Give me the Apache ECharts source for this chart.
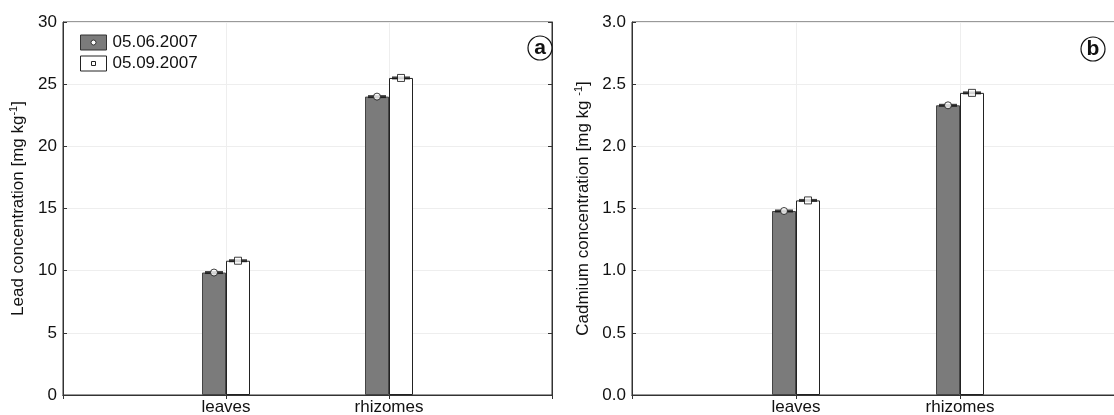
<!DOCTYPE html>
<html><head><meta charset="utf-8">
<script src="https://cdn.jsdelivr.net/npm/echarts@6/dist/echarts.min.js"></script>
<style>html,body{margin:0;padding:0;background:#fff}#c{width:1114px;height:415px}</style>
</head><body><div id="c"></div>
<script>
var categories = ['', 'leaves', 'rhizomes', ''];
var seriesNames = ['05.06.2007', '05.09.2007'];
var leadJune = ['-', 9.85, 24.0, '-'];
var leadSept = ['-', 10.8, 25.5, '-'];
var cadJune = ['-', 1.48, 2.33, '-'];
var cadSept = ['-', 1.565, 2.43, '-'];
var leadTicks = [0, 30, 5];
var cadTicks = [0, 3, 0.5];

var FONT = 'Liberation Sans, Arial, sans-serif';
var chart = echarts.init(document.getElementById('c'));

function xAx(gi, pos, labels) {
  return {
    type: 'category', gridIndex: gi, data: categories, position: pos, boundaryGap: false,
    axisLine: {show: true, lineStyle: {color: '#333', width: 1}},
    axisTick: {show: true, inside: true, length: 4, lineStyle: {color: '#333'}},
    axisLabel: {show: labels, interval: 0, color: '#111', fontSize: 17, fontFamily: FONT, margin: 4},
    splitLine: {show: labels, lineStyle: {color: '#eeeeee', width: 1}}
  };
}
function yAx(gi, pos, t, labels, name, gap, dec) {
  return {
    type: 'value', gridIndex: gi, position: pos, min: t[0], max: t[1], interval: t[2],
    name: labels ? name : '', nameLocation: 'middle', nameGap: gap,
    nameTextStyle: {fontFamily: FONT, color: '#111', fontSize: 17,
      rich: {n: {fontSize: 17, fontFamily: FONT, color: '#111'},
             s: {fontSize: 11, fontFamily: FONT, color: '#111', padding: [0, 0, 10, 0]}}},
    axisLine: {show: true, lineStyle: {color: '#333', width: 1}},
    axisTick: {show: true, inside: true, length: 4, lineStyle: {color: '#333'}},
    axisLabel: {show: labels, color: '#111', fontSize: 17, fontFamily: FONT, margin: 6,
      formatter: function (v) { return dec ? v.toFixed(1) : String(v); }},
    splitLine: {show: labels, lineStyle: {color: '#eeeeee', width: 1}}
  };
}

function barSeries(name, data, gi, dark) {
  return {
    name: name, type: 'bar', xAxisIndex: gi * 2, yAxisIndex: gi * 2, data: data,
    barWidth: 24, barGap: '0%',
    itemStyle: {color: dark ? '#7b7b7b' : '#ffffff', borderColor: dark ? '#444' : '#222', borderWidth: 1},
    emphasis: {disabled: true}, z: 2
  };
}
function capSeries(data, gi, off) {
  return {
    type: 'scatter', xAxisIndex: gi * 2, yAxisIndex: gi * 2, data: data,
    symbol: 'rect', symbolSize: [18, 3], symbolOffset: [off, 0],
    itemStyle: {color: '#111'}, silent: true, z: 3
  };
}
function markSeries(data, gi, off, sym) {
  return {
    type: 'scatter', xAxisIndex: gi * 2, yAxisIndex: gi * 2, data: data,
    symbol: sym, symbolSize: 7, symbolOffset: [off, 0],
    itemStyle: {color: '#fff', borderColor: '#111', borderWidth: 1}, silent: true, z: 4
  };
}

var iconDark = 'path://M0,0H26V15H0Z M13,5 A2.5,2.5 0 1 0 13,10 A2.5,2.5 0 1 0 13,5Z';
var iconWhite = 'path://M0,0H26V15H0Z M11,5.5V9.5H15V5.5Z';

var option = {
  animation: false,
  backgroundColor: '#fff',
  grid: [
    {left: 63, top: 22, width: 489, height: 373, show: true, borderColor: '#333', borderWidth: 1, outerBoundsMode: 'none'},
    {left: 632, top: 22, width: 492, height: 373, show: true, borderColor: '#333', borderWidth: 1, outerBoundsMode: 'none'}
  ],
  xAxis: [xAx(0, 'bottom', true), xAx(0, 'top', false), xAx(1, 'bottom', true), xAx(1, 'top', false)],
  yAxis: [
    yAx(0, 'left', leadTicks, true, '{n|Lead concentration [mg kg}{s|-1}{n|]}', 34, false),
    yAx(0, 'right', leadTicks, false, '', 0, false),
    yAx(1, 'left', cadTicks, true, '{n|Cadmium concentration [mg kg }{s|-1}{n|]}', 38, true),
    yAx(1, 'right', cadTicks, false, '', 0, true)
  ],
  legend: {
    left: 80, top: 34, padding: 0, orient: 'vertical', itemWidth: 26, itemHeight: 15, itemGap: 4,
    textStyle: {fontSize: 17, fontFamily: FONT, color: '#111', padding: [0, 0, 0, 1]},
    selectedMode: false,
    data: [
      {name: seriesNames[0], icon: iconDark, itemStyle: {color: '#7b7b7b', borderColor: '#333', borderWidth: 1}},
      {name: seriesNames[1], icon: iconWhite, itemStyle: {color: '#ffffff', borderColor: '#222', borderWidth: 1}}
    ]
  },
  graphic: [
    {type: 'circle', shape: {cx: 540, cy: 48, r: 12}, style: {fill: '#fff', stroke: '#111', lineWidth: 1.2}, z: 10},
    {type: 'text', x: 540, y: 48, style: {text: 'a', fontSize: 21, fontWeight: 'bold', fontFamily: FONT, fill: '#111', align: 'center', verticalAlign: 'middle'}, z: 11},
    {type: 'circle', shape: {cx: 1093, cy: 49, r: 12}, style: {fill: '#fff', stroke: '#111', lineWidth: 1.2}, z: 10},
    {type: 'text', x: 1093, y: 49, style: {text: 'b', fontSize: 21, fontWeight: 'bold', fontFamily: FONT, fill: '#111', align: 'center', verticalAlign: 'middle'}, z: 11}
  ],
  series: [
    barSeries(seriesNames[0], leadJune, 0, true),
    barSeries(seriesNames[1], leadSept, 0, false),
    capSeries(leadJune, 0, -12), capSeries(leadSept, 0, 12),
    markSeries(leadJune, 0, -12, 'circle'), markSeries(leadSept, 0, 12, 'rect'),
    barSeries(seriesNames[0], cadJune, 1, true),
    barSeries(seriesNames[1], cadSept, 1, false),
    capSeries(cadJune, 1, -12), capSeries(cadSept, 1, 12),
    markSeries(cadJune, 1, -12, 'circle'), markSeries(cadSept, 1, 12, 'rect')
  ]
};
chart.setOption(option);
</script>
</body></html>
